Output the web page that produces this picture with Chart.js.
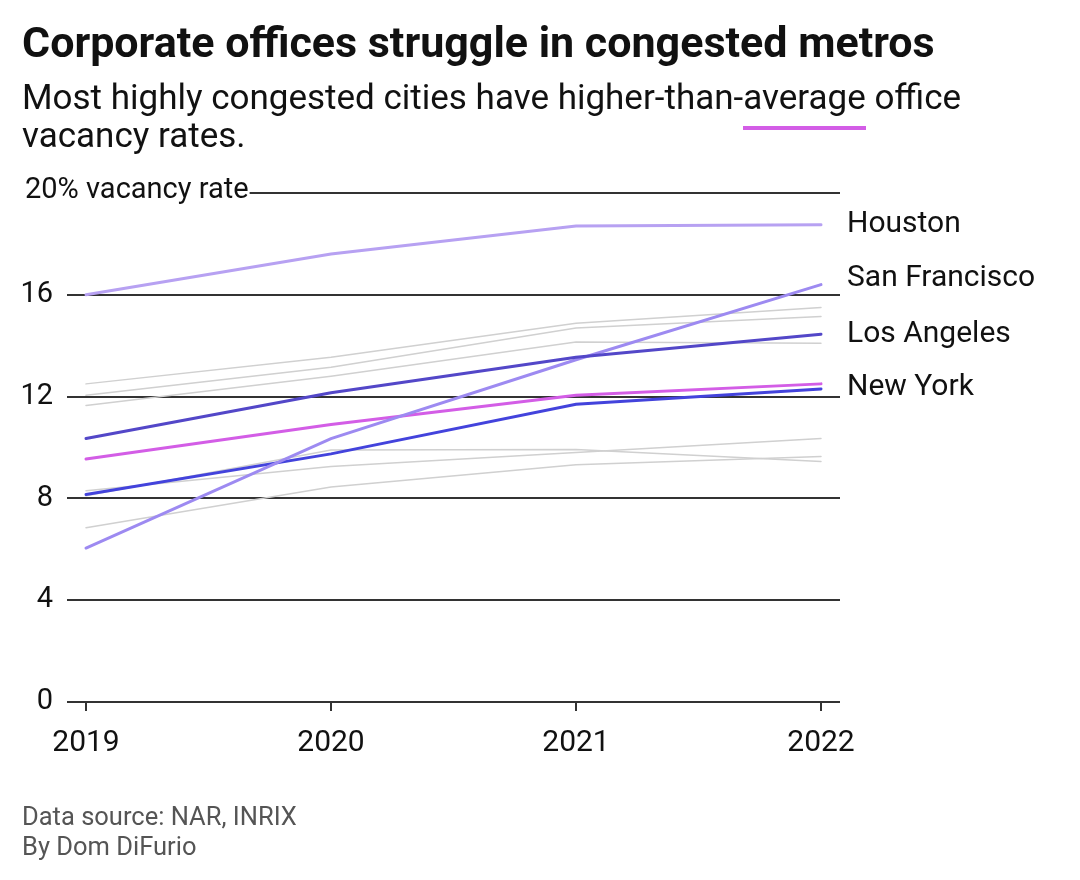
<!DOCTYPE html>
<html>
<head>
<meta charset="utf-8">
<script src="https://cdn.jsdelivr.net/npm/chart.js@4.4.1/dist/chart.umd.min.js"></script>
<style>
  html, body { margin: 0; padding: 0; background: #fff; }
  body { width: 1080px; height: 880px; position: relative; font-family: Roboto, sans-serif; color: #111; }
  #chart { position: absolute; left: 0; top: 0; }
  .title { position: absolute; left: 22px; top: 21px; font-size: 43px; line-height: 43px; font-weight: 700; white-space: nowrap; }
  .subtitle { position: absolute; left: 22px; top: 79px; font-size: 35px; line-height: 38px; white-space: nowrap; }
  .avg { position: relative; }
  .avg::after { content: ""; position: absolute; left: 0; right: 0; top: 49px; height: 4px; background: #d35de6; }
  .footer { position: absolute; left: 22px; top: 801px; font-size: 25.5px; line-height: 30px; color: #555; }
</style>
</head>
<body>
<canvas id="chart" width="1080" height="880"></canvas>
<div class="title">Corporate offices struggle in congested metros</div>
<div class="subtitle">Most highly congested cities have higher-than-<span class="avg">average</span> office<br>vacancy rates.</div>
<div class="footer">Data source: NAR, INRIX<br>By Dom DiFurio</div>
<script>
// office vacancy rate, %
var years = [2019, 2020, 2021, 2022];
var yTicks = [0, 4, 8, 12, 16, 20];

var houston = [16.0, 17.6, 18.7, 18.75];
var sanFrancisco = [6.05, 10.35, 13.45, 16.4];
var losAngeles = [10.35, 12.15, 13.55, 14.45];
var newYork = [8.15, 9.75, 11.7, 12.3];
var average = [9.55, 10.9, 12.05, 12.5];

// other metros, drawn in grey
var otherMetros = [
  [12.5, 13.55, 14.88, 15.5],
  [12.05, 13.15, 14.7, 15.15],
  [11.65, 12.8, 14.15, 14.1],
  [8.1, 9.9, 9.92, 9.45],
  [8.3, 9.25, 9.8, 10.35],
  [6.85, 8.45, 9.32, 9.65]
];

function toPoints(values) {
  return values.map(function (v, i) { return { x: years[i], y: v }; });
}

var datasets = otherMetros.map(function (values) {
  return {
    data: toPoints(values),
    borderColor: '#d0d0d0',
    borderWidth: 1.5,
    order: 10
  };
});

datasets.push(
  { label: '', data: toPoints(average), borderColor: '#d35de6', borderWidth: 3, order: 5 },
  { label: 'New York', data: toPoints(newYork), borderColor: '#4343dc', borderWidth: 3, order: 4, nudge: -4 },
  { label: 'San Francisco', data: toPoints(sanFrancisco), borderColor: '#9d8af1', borderWidth: 3, order: 3, nudge: -9 },
  { label: 'Los Angeles', data: toPoints(losAngeles), borderColor: '#5347c8', borderWidth: 3, order: 2, nudge: -3 },
  { label: 'Houston', data: toPoints(houston), borderColor: '#b7a1f2', borderWidth: 3, order: 1, nudge: -3 }
);

// "20% vacancy rate" on the top gridline and city names at line ends
var annotations = {
  id: 'annotations',
  afterDatasetsDraw: function (chart) {
    var ctx = chart.ctx;
    var area = chart.chartArea;
    var y = chart.scales.y;
    ctx.save();

    var topY = y.getPixelForValue(yTicks[yTicks.length - 1]);
    var topLabel = yTicks[yTicks.length - 1] + '% vacancy rate';
    ctx.font = '29px Roboto';
    var w = ctx.measureText(topLabel).width;
    ctx.fillStyle = '#fff';
    ctx.fillRect(area.left - 2, topY - 4, 25 + w + 3 - area.left, 8);
    ctx.fillStyle = '#111';
    ctx.textBaseline = 'alphabetic';
    ctx.fillText(topLabel, 25, topY + 5);

    ctx.font = '30px Roboto';
    chart.data.datasets.forEach(function (ds) {
      if (!ds.label) return;
      var last = ds.data[ds.data.length - 1];
      var cy = y.getPixelForValue(last.y) + ds.nudge;
      ctx.fillText(ds.label, area.right + 7, cy + 10.5);
    });
    ctx.restore();
  }
};

new Chart(document.getElementById('chart'), {
  type: 'line',
  data: { datasets: datasets },
  options: {
    responsive: false,
    animation: false,
    devicePixelRatio: 1,
    layout: { padding: { top: 193, right: 240, bottom: 118, left: 0 } },
    elements: {
      point: { radius: 0 },
      line: { tension: 0, borderCapStyle: 'round', fill: false }
    },
    plugins: {
      legend: { display: false },
      tooltip: { enabled: false }
    },
    scales: {
      x: {
        type: 'linear',
        min: 2018.9224,
        max: 2022.0776,
        afterBuildTicks: function (scale) {
          scale.ticks = years.map(function (v) { return { value: v }; });
        },
        afterFit: function (scale) { scale.height = 60; },
        grid: { drawOnChartArea: false, drawTicks: true, tickLength: 9, color: '#333', lineWidth: 2 },
        border: { display: false },
        ticks: {
          padding: 14,
          color: '#111',
          font: { family: 'Roboto', size: 30 },
          maxRotation: 0,
          callback: function (v) { return String(v); }
        }
      },
      y: {
        min: yTicks[0],
        max: yTicks[yTicks.length - 1],
        afterBuildTicks: function (scale) {
          scale.ticks = yTicks.map(function (v) { return { value: v }; });
        },
        afterFit: function (scale) { scale.width = 67; },
        grid: { drawTicks: false, color: '#333', lineWidth: 2 },
        border: { display: false },
        ticks: {
          padding: 14,
          color: '#111',
          font: { family: 'Roboto', size: 29 },
          callback: function (v) { return v === yTicks[yTicks.length - 1] ? '' : String(v); }
        }
      }
    }
  },
  plugins: [annotations]
});
</script>
</body>
</html>
